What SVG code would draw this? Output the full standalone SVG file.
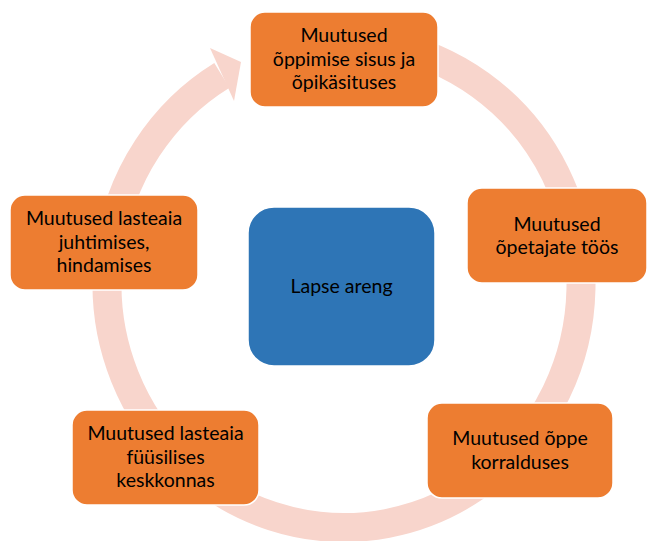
<svg xmlns="http://www.w3.org/2000/svg" width="649" height="541" viewBox="0 0 649 541">
<style>
.ring{fill:none;stroke:#F8D5CC;stroke-width:29}
.head{fill:#F8D5CC}
.box{fill:#ED7D31;stroke:#FFFFFF;stroke-width:1.5}
.center{fill:#2E75B6;stroke:#FFFFFF;stroke-width:1.5}
text{font-family:Lato,"Liberation Sans",sans-serif;font-size:19.5px;fill:#000000;text-anchor:middle}
</style>
<rect width="649" height="541" fill="#FFFFFF"/>
<g id="connectors">
<path class="ring" d="M385.2 44.2 A237 243.5 0 1 1 221.9 75.3"/>
<polygon class="head" points="210,48 241,62 234,101"/>
</g>
<g id="node-center">
<rect class="center" x="248" y="207" width="187" height="159" rx="26"/>
<text x="341.5" y="293">Lapse areng</text>
</g>
<g id="node-top">
<rect class="box" x="250" y="12" width="188" height="95" rx="15"/>
<text x="344" y="42">Muutused</text>
<text x="344" y="65.5">õppimise sisus ja</text>
<text x="344" y="89">õpikäsituses</text>
</g>
<g id="node-right">
<rect class="box" x="467" y="188" width="180" height="95" rx="15"/>
<text x="557" y="230.5">Muutused</text>
<text x="557" y="254">õpetajate töös</text>
</g>
<g id="node-bottom-right">
<rect class="box" x="427" y="403" width="186" height="95" rx="15"/>
<text x="520" y="445">Muutused õppe</text>
<text x="520" y="468.5">korralduses</text>
</g>
<g id="node-bottom-left">
<rect class="box" x="72" y="410" width="187" height="95" rx="15"/>
<text x="165.5" y="440">Muutused lasteaia</text>
<text x="165.5" y="463.5">füüsilises</text>
<text x="165.5" y="487">keskkonnas</text>
</g>
<g id="node-left">
<rect class="box" x="10" y="195" width="188" height="95" rx="15"/>
<text x="104" y="225">Muutused lasteaia</text>
<text x="104" y="248.5">juhtimises,</text>
<text x="104" y="272">hindamises</text>
</g>
</svg>
